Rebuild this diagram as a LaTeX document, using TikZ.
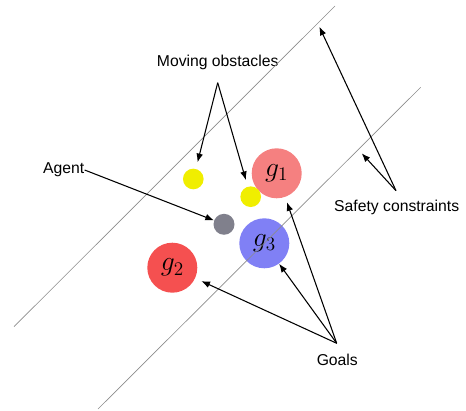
\documentclass[tikz,border=0pt]{standalone}
\usepackage[no-math]{fontspec}
\setmainfont{Liberation Sans}
\usepackage{xcolor}
\usetikzlibrary{arrows.meta}
\definecolor{goalone}{RGB}{245,128,128}
\definecolor{goaltwo}{RGB}{245,80,80}
\definecolor{goalthree}{RGB}{128,128,245}
\definecolor{obyellow}{RGB}{240,238,0}
\definecolor{agentgray}{RGB}{128,128,140}
\begin{document}
\begin{tikzpicture}
[x=0.75pt,y=0.75pt,
 goal/.style={circle,inner sep=0pt,minimum size=37.5pt,font=\fontsize{20}{20}\selectfont},
 obstacle/.style={circle,fill=obyellow,inner sep=0pt,minimum size=15.5pt},
 agentdot/.style={circle,fill=agentgray,inner sep=0pt,minimum size=15.75pt},
 txt/.style={inner sep=0pt,font=\fontsize{11.8}{14}\selectfont},
 pointer/.style={-{Latex[length=6.5pt,width=5pt]},line width=0.8pt},
 limit/.style={draw=black!45,line width=0.5pt}]
\useasboundingbox (0,0) rectangle (466,410);
\node[goal,fill=goalone]   (g1) at (276.7,236.7) {$g_1$};
\node[goal,fill=goaltwo]   (g2) at (172.3,142.3) {$g_2$};
\node[goal,fill=goalthree] (g3) at (264.3,166.7) {$g_3$};
\node[obstacle] (ob1)   at (193.3,231) {};
\node[obstacle] (ob2)   at (250.7,213.3) {};
\node[agentdot] (agent) at (224,185.7) {};
\node[txt] (moving) at (217.7,347.3) {Moving obstacles};
\node[txt] (agtxt)  at (63.8,240) {Agent};
\node[txt] (safety) at (396.7,202.7) {Safety constraints};
\node[txt] (goals)  at (337.3,50) {Goals};
\coordinate (upst)  at (14,83.3);
\coordinate (upen)  at (335,404);
\coordinate (lowst) at (98,1);
\coordinate (lowen) at (420.7,322.7);
\coordinate (movpt) at (217.7,327.3);
\coordinate (safpt) at (396,219.3);
\coordinate (goalpt) at (336.7,66.7);
\coordinate (upmark)  at (319.3,383.3);
\coordinate (lowmark) at (361.7,256.7);
\path[limit] (upst) edge (upen)
             (lowst) edge (lowen);
\path[pointer] (movpt) edge[shorten >=5pt] (ob1)
                       edge[shorten >=5pt] (ob2)
               (agtxt.east) edge (agent)
               (safpt) edge (upmark)
                       edge (lowmark)
               (goalpt) edge[shorten >=4pt] (g1)
                        edge (g3)
                        edge[shorten >=5pt] (g2);
\end{tikzpicture}
\end{document}
